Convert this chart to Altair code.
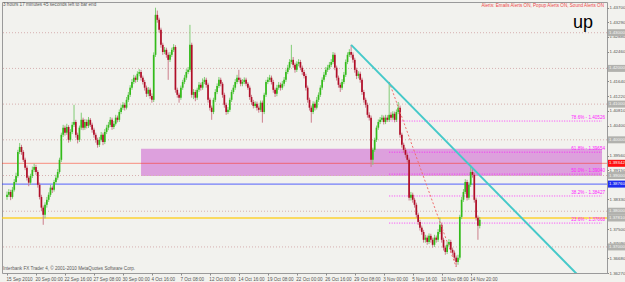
import json
import altair as alt
import pandas as pd

# ---------------- data ----------------
first_open = 1.3840
closes = [
    1.3846, 1.3854, 1.3840, 1.3860, 1.3882, 1.3899, 1.3966, 1.3980, 1.3966, 1.3944,
    1.3922, 1.3894, 1.3880, 1.3899, 1.3916, 1.3924, 1.3910, 1.3874, 1.3840, 1.3810,
    1.3790, 1.3818, 1.3832, 1.3846, 1.3866, 1.3860, 1.3882, 1.3894, 1.3910, 1.3944,
    1.4014, 1.4034, 1.4020, 1.4036, 1.4000, 1.4022, 1.4042, 1.4050, 1.4014, 1.4000,
    1.4034, 1.4056, 1.4034, 1.4050, 1.4039, 1.4056, 1.4042, 1.4028, 1.4014, 1.4000,
    1.3986, 1.4000, 1.4014, 1.3994, 1.4022, 1.4034, 1.4042, 1.4056, 1.4036, 1.4045,
    1.4062, 1.4056, 1.4078, 1.4090, 1.4098, 1.4090, 1.4112, 1.4126, 1.4146, 1.4162,
    1.4174, 1.4168, 1.4185, 1.4190, 1.4174, 1.4162, 1.4146, 1.4129, 1.4140, 1.4123,
    1.4112, 1.4238, 1.4350, 1.4336, 1.4308, 1.4266, 1.4246, 1.4252, 1.4238, 1.4224,
    1.4238, 1.4252, 1.4260, 1.4140, 1.4126, 1.4118, 1.4146, 1.4162, 1.4174, 1.4190,
    1.4196, 1.4266, 1.4126, 1.4134, 1.4118, 1.4140, 1.4154, 1.4146, 1.4162, 1.4168,
    1.4154, 1.4112, 1.4090, 1.4078, 1.4112, 1.4134, 1.4151, 1.4168, 1.4157, 1.4126,
    1.4098, 1.4078, 1.4084, 1.4112, 1.4134, 1.4146, 1.4162, 1.4174, 1.4168, 1.4157,
    1.4162, 1.4168, 1.4157, 1.4146, 1.4120, 1.4106, 1.4095, 1.4101, 1.4090, 1.4084,
    1.4104, 1.4078, 1.4126, 1.4162, 1.4168, 1.4174, 1.4162, 1.4140, 1.4129, 1.4146,
    1.4154, 1.4146, 1.4157, 1.4168, 1.4190, 1.4202, 1.4218, 1.4224, 1.4210, 1.4196,
    1.4213, 1.4218, 1.4202, 1.4190, 1.4179, 1.4146, 1.4112, 1.4090, 1.4078, 1.4101,
    1.4090, 1.4112, 1.4126, 1.4146, 1.4168, 1.4182, 1.4196, 1.4202, 1.4210, 1.4218,
    1.4238, 1.4202, 1.4174, 1.4154, 1.4146, 1.4162, 1.4182, 1.4218, 1.4238, 1.4246,
    1.4238, 1.4224, 1.4196, 1.4179, 1.4185, 1.4168, 1.4134, 1.4112, 1.4098, 1.4070,
    1.4062, 1.3944, 1.3972, 1.4000, 1.4034, 1.4050, 1.4056, 1.4062, 1.4050, 1.4062,
    1.4056, 1.4070, 1.4062, 1.4073, 1.4056, 1.4078, 1.4090, 1.4014, 1.3986, 1.3972,
    1.3958, 1.3944, 1.3838, 1.3846, 1.3832, 1.3818, 1.3790, 1.3770, 1.3754, 1.3742,
    1.3720, 1.3726, 1.3714, 1.3731, 1.3720, 1.3706, 1.3726, 1.3720, 1.3742, 1.3762,
    1.3720, 1.3698, 1.3686, 1.3706, 1.3714, 1.3692, 1.3684, 1.3670, 1.3658, 1.3670,
    1.3784, 1.3832, 1.3854, 1.3882, 1.3838, 1.3874, 1.3910, 1.3902, 1.3832, 1.3782,
    1.3759, 1.3776,
]
highs = [
    1.3855, 1.3862, 1.3860, 1.3868, 1.3890, 1.3908, 1.3972, 1.3991, 1.3986, 1.3971,
    1.3950, 1.3928, 1.3900, 1.3905, 1.3925, 1.3933, 1.3930, 1.3915, 1.3880, 1.3846,
    1.3816, 1.3825, 1.3840, 1.3853, 1.3874, 1.3872, 1.3888, 1.3902, 1.3918, 1.3950,
    1.4020, 1.4042, 1.4040, 1.4045, 1.4041, 1.4030, 1.4050, 1.4098, 1.4056, 1.4020,
    1.4040, 1.4076, 1.4062, 1.4058, 1.4057, 1.4064, 1.4061, 1.4048, 1.4034, 1.4020,
    1.4006, 1.4008, 1.4022, 1.4020, 1.4030, 1.4042, 1.4050, 1.4064, 1.4062, 1.4053,
    1.4070, 1.4068, 1.4085, 1.4098, 1.4106, 1.4104, 1.4120, 1.4134, 1.4153, 1.4170,
    1.4182, 1.4180, 1.4192, 1.4198, 1.4196, 1.4180, 1.4168, 1.4152, 1.4148, 1.4146,
    1.4130, 1.4245, 1.4370, 1.4362, 1.4342, 1.4314, 1.4272, 1.4260, 1.4258, 1.4245,
    1.4246, 1.4258, 1.4268, 1.4265, 1.4146, 1.4132, 1.4152, 1.4168, 1.4182, 1.4198,
    1.4204, 1.4322, 1.4272, 1.4142, 1.4140, 1.4146, 1.4162, 1.4160, 1.4172, 1.4176,
    1.4174, 1.4160, 1.4118, 1.4096, 1.4118, 1.4142, 1.4158, 1.4176, 1.4174, 1.4162,
    1.4132, 1.4104, 1.4092, 1.4118, 1.4140, 1.4154, 1.4170, 1.4182, 1.4196, 1.4174,
    1.4170, 1.4175, 1.4174, 1.4162, 1.4152, 1.4126, 1.4112, 1.4108, 1.4107, 1.4096,
    1.4110, 1.4110, 1.4132, 1.4168, 1.4176, 1.4182, 1.4180, 1.4168, 1.4146, 1.4154,
    1.4162, 1.4160, 1.4165, 1.4176, 1.4197, 1.4210, 1.4226, 1.4266, 1.4232, 1.4216,
    1.4220, 1.4226, 1.4224, 1.4208, 1.4196, 1.4185, 1.4152, 1.4118, 1.4096, 1.4108,
    1.4107, 1.4120, 1.4133, 1.4153, 1.4175, 1.4190, 1.4204, 1.4210, 1.4218, 1.4226,
    1.4246, 1.4244, 1.4208, 1.4180, 1.4160, 1.4170, 1.4190, 1.4225, 1.4245, 1.4254,
    1.4266, 1.4245, 1.4230, 1.4202, 1.4192, 1.4191, 1.4174, 1.4140, 1.4118, 1.4104,
    1.4077, 1.4068, 1.3978, 1.4006, 1.4040, 1.4057, 1.4064, 1.4070, 1.4068, 1.4070,
    1.4069, 1.4162, 1.4077, 1.4080, 1.4079, 1.4085, 1.4106, 1.4096, 1.4020, 1.3992,
    1.3978, 1.3964, 1.3950, 1.3854, 1.3852, 1.3838, 1.3824, 1.3796, 1.3776, 1.3760,
    1.3748, 1.3734, 1.3732, 1.3738, 1.3737, 1.3726, 1.3734, 1.3732, 1.3750, 1.3782,
    1.3768, 1.3726, 1.3704, 1.3714, 1.3722, 1.3720, 1.3698, 1.3690, 1.3676, 1.3678,
    1.3790, 1.3840, 1.3862, 1.3890, 1.3888, 1.3882, 1.3930, 1.3918, 1.3908, 1.3838,
    1.3788, 1.3784,
]
lows = [
    1.3832, 1.3840, 1.3831, 1.3835, 1.3855, 1.3876, 1.3894, 1.3960, 1.3958, 1.3938,
    1.3915, 1.3886, 1.3870, 1.3874, 1.3893, 1.3910, 1.3902, 1.3866, 1.3833, 1.3800,
    1.3762, 1.3780, 1.3810, 1.3826, 1.3840, 1.3851, 1.3855, 1.3876, 1.3888, 1.3905,
    1.3938, 1.4008, 1.4012, 1.4014, 1.3992, 1.3995, 1.4016, 1.4036, 1.4006, 1.3990,
    1.3994, 1.4028, 1.4027, 1.4028, 1.4032, 1.4033, 1.4036, 1.4020, 1.4006, 1.3992,
    1.3978, 1.3980, 1.3995, 1.3985, 1.3988, 1.4016, 1.4027, 1.4036, 1.4028, 1.4030,
    1.4040, 1.4049, 1.4050, 1.4072, 1.4084, 1.4082, 1.4085, 1.4106, 1.4120, 1.4140,
    1.4156, 1.4160, 1.4162, 1.4178, 1.4166, 1.4155, 1.4138, 1.4120, 1.4122, 1.4115,
    1.4104, 1.4106, 1.4232, 1.4328, 1.4300, 1.4258, 1.4238, 1.4240, 1.4230, 1.4168,
    1.4218, 1.4232, 1.4246, 1.4132, 1.4118, 1.4104, 1.4112, 1.4140, 1.4156, 1.4168,
    1.4184, 1.4190, 1.4118, 1.4114, 1.4108, 1.4112, 1.4134, 1.4138, 1.4140, 1.4156,
    1.4146, 1.4104, 1.4082, 1.4056, 1.4072, 1.4106, 1.4128, 1.4145, 1.4150, 1.4118,
    1.4090, 1.4070, 1.4072, 1.4078, 1.4106, 1.4128, 1.4140, 1.4156, 1.4162, 1.4150,
    1.4150, 1.4156, 1.4150, 1.4140, 1.4112, 1.4098, 1.4088, 1.4089, 1.4082, 1.4076,
    1.4078, 1.4048, 1.4072, 1.4120, 1.4156, 1.4162, 1.4155, 1.4132, 1.4120, 1.4122,
    1.4140, 1.4138, 1.4140, 1.4150, 1.4162, 1.4184, 1.4196, 1.4212, 1.4202, 1.4188,
    1.4190, 1.4206, 1.4195, 1.4182, 1.4172, 1.4138, 1.4104, 1.4082, 1.4048, 1.4072,
    1.4082, 1.4085, 1.4106, 1.4120, 1.4140, 1.4162, 1.4176, 1.4190, 1.4196, 1.4204,
    1.4212, 1.4195, 1.4166, 1.4146, 1.4134, 1.4140, 1.4156, 1.4176, 1.4212, 1.4232,
    1.4230, 1.4216, 1.4188, 1.4170, 1.4172, 1.4160, 1.4126, 1.4104, 1.4090, 1.4062,
    1.4054, 1.3924, 1.3930, 1.3966, 1.3994, 1.4028, 1.4044, 1.4050, 1.4043, 1.4044,
    1.4050, 1.4050, 1.4055, 1.4056, 1.4049, 1.4050, 1.4072, 1.4006, 1.3978, 1.3964,
    1.3950, 1.3936, 1.3830, 1.3830, 1.3824, 1.3810, 1.3782, 1.3762, 1.3746, 1.3734,
    1.3712, 1.3712, 1.3706, 1.3708, 1.3712, 1.3698, 1.3700, 1.3712, 1.3714, 1.3736,
    1.3712, 1.3690, 1.3678, 1.3680, 1.3700, 1.3684, 1.3676, 1.3662, 1.3644, 1.3650,
    1.3664, 1.3778, 1.3826, 1.3848, 1.3830, 1.3832, 1.3868, 1.3894, 1.3824, 1.3774,
    1.3720, 1.3752,
]

time_labels = [
    "15 Sep 2010", "20 Sep 00:00", "22 Sep 16:00", "27 Sep 08:00", "30 Sep 00:00",
    "4 Oct 16:00", "7 Oct 08:00", "12 Oct 00:00", "14 Oct 16:00", "19 Oct 08:00",
    "22 Oct 00:00", "26 Oct 16:00", "29 Oct 08:00", "3 Nov 00:00", "5 Nov 16:00",
    "10 Nov 08:00", "14 Nov 20:00",
]
bars_per_label = 16
# price labels of the right scale (those hidden under line labels are left out)
price_ticks = [
    1.36270, 1.36680, 1.37090, 1.37500, 1.38330, 1.39150, 1.39560,
    1.40400, 1.40810, 1.41220, 1.41640, 1.42050, 1.42460, 1.42880, 1.43290, 1.43700,
]
round_levels = [1.43, 1.42, 1.41, 1.40, 1.39, 1.38, 1.37]
red_level = 1.39342
blue_level = 1.38760
gold_level = 1.37810
zone = {"start": 74.0, "top": 1.3975, "bottom": 1.3899}
fib_names = ["78.6%", "61.8%", "50.0%", "38.2%", "23.6%"]
fib_levels = [1.40526, 1.39654, 1.39040, 1.38427, 1.37668]
fib_start_bar = 211
fib_anchor_bars = [211, 248]
fib_anchor_prices = [1.4162, 1.3644]
trend_bars = [190, 316]
trend_prices = [1.4266, 1.3617]

countdown_text = "3 hours 17 minutes 45 seconds left to bar end"
alerts_text = "Alerts:  Emails Alerts ON,  Popup Alerts ON,  Sound Alerts ON"
signal_text = "up"
copyright_text = "Interbank FX Trader 4, \u00a9 2001-2010 MetaQuotes Software Corp."

# ---------------- tables ----------------
n = len(closes)
opens = [first_open] + closes[:-1]
candles = pd.DataFrame({"i": list(range(n)), "open": opens, "close": closes,
                        "high": highs, "low": lows})

X_DOMAIN = [0, 328.5]
Y_DOMAIN = [1.3627, 1.4386]
xs = alt.Scale(domain=X_DOMAIN, nice=False, zero=False)
ys = alt.Scale(domain=Y_DOMAIN, nice=False, zero=False)

FONT = "Liberation Sans"
FS = 4.6
AFS = 4.4
BG = "#f2f2ee"
UP, DOWN = "#33bb1a", "#b00e28"
UP_WICK, DOWN_WICK = "#80cc74", "#cc7f8c"

label_expr = json.dumps(time_labels).replace('"', "'") + "[round(datum.value / %d)]" % bars_per_label
X_AX = alt.Axis(values=[bars_per_label * k for k in range(len(time_labels))],
                labelExpr=label_expr, labelAlign="left", labelBaseline="top",
                labelFontSize=FS, labelFont=FONT, labelColor="#555555", labelPadding=1,
                labelOffset=-1, tickSize=2, tickColor="#8a8a8a", domain=False, grid=False,
                title=None, labelFlush=False, labelOverlap=False)
Y_AX = alt.Axis(orient="right", values=price_ticks, format=".5f", labelFontSize=AFS,
                labelFont=FONT, labelColor="#555555", labelPadding=0.5, tickSize=1.5,
                tickColor="#8a8a8a", domain=False, grid=False, title=None,
                labelFlush=False, labelOverlap=False, labelBaseline="middle")


def X(field):
    return alt.X(field, scale=xs, axis=X_AX)


def Y(field):
    return alt.Y(field, scale=ys, axis=Y_AX)


zone_df = pd.DataFrame({"x0": [zone["start"]], "x1": [X_DOMAIN[1]],
                        "top": [zone["top"]], "bottom": [zone["bottom"]]})
zone_layer = alt.Chart(zone_df).mark_rect(color="#dda0dd", clip=True).encode(
    x=X("x0:Q"), x2="x1:Q", y=Y("top:Q"), y2="bottom:Q")

round_layer = alt.Chart(pd.DataFrame({"level": round_levels})).mark_rule(
    color="#d6b0b0", strokeDash=[1, 2], strokeWidth=1).encode(y=Y("level:Q"))


def hline(level, color, width, opacity):
    return alt.Chart(pd.DataFrame({"level": [level]})).mark_rule(
        color=color, strokeWidth=width, opacity=opacity).encode(y=Y("level:Q"))


red_layer = hline(red_level, "#ff2a10", 1.0, 0.5)
blue_layer = hline(blue_level, "#2a3cff", 1.0, 0.8)
gold_layer = hline(gold_level, "#ffcc10", 1.4, 0.85)

fib_df = pd.DataFrame({"level": fib_levels,
                       "label": [f"{nm} - {lv:.5f}" for nm, lv in zip(fib_names, fib_levels)],
                       "x0": [fib_start_bar] * len(fib_levels),
                       "x1": [X_DOMAIN[1]] * len(fib_levels)})
fib_lines = alt.Chart(fib_df).mark_rule(color="#ff00ff", strokeDash=[1, 1.5],
                                        strokeWidth=1, opacity=0.75).encode(
    x=X("x0:Q"), x2="x1:Q", y=Y("level:Q"))
fib_text = alt.Chart(fib_df).mark_text(align="right", baseline="middle", dy=-3,
                                       fontSize=FS, font=FONT, color="#ff20ff").encode(
    x=alt.value(603), y=Y("level:Q"), text="label:N")

is_up = "datum.close >= datum.open"
wicks = alt.Chart(candles).mark_rule(strokeWidth=1, clip=True).encode(
    x=X("i:Q"), y=Y("low:Q"), y2="high:Q",
    color=alt.condition(is_up, alt.value(UP_WICK), alt.value(DOWN_WICK)))
bodies = alt.Chart(candles).mark_bar(size=1.7, clip=True).encode(
    x=X("i:Q"), y=Y("open:Q"), y2="close:Q",
    color=alt.condition(is_up, alt.value(UP), alt.value(DOWN)))

fib_diag = alt.Chart(pd.DataFrame({"i": fib_anchor_bars, "p": fib_anchor_prices})).mark_line(
    color="#f07070", strokeDash=[2, 2], strokeWidth=1, clip=True).encode(
    x=X("i:Q"), y=Y("p:Q"))
trend = alt.Chart(pd.DataFrame({"i": trend_bars, "p": trend_prices})).mark_line(
    color="#45c9c9", strokeWidth=2, clip=True).encode(x=X("i:Q"), y=Y("p:Q"))

box_levels = round_levels + [red_level, blue_level, gold_level]
box_kinds = ["grid"] * len(round_levels) + ["red", "blue", "gold"]
box_df = pd.DataFrame({"level": box_levels, "kind": box_kinds,
                       "label": [f"{v:.5f}" for v in box_levels]})
boxes = alt.Chart(box_df).transform_calculate(
    top="datum.level + 0.00098", bot="datum.level - 0.00098").mark_rect().encode(
    x=alt.value(606), x2=alt.value(623),
    y=Y("top:Q"), y2="bot:Q",
    color=alt.Color("kind:N", scale=alt.Scale(domain=["grid", "red", "blue", "gold"],
                                              range=["#b2b2ae", "#ff1010", "#1f2cf0", "#b2b2ae"]),
                    legend=None))
box_text = alt.Chart(box_df).mark_text(align="left", baseline="middle", fontSize=AFS,
                                       font=FONT, color="#f6f6f6").encode(
    x=alt.value(607), y=Y("level:Q"), text="label:N")


def note(text, x, y, align, size, color, baseline="middle"):
    return alt.Chart(pd.DataFrame({"t": [text]})).mark_text(
        align=align, baseline=baseline, fontSize=size, font=FONT, color=color).encode(
        x=alt.value(x), y=alt.value(y), text="t:N")


notes = [
    note(countdown_text, 1, 3, "left", FS, "#5a5a5a"),
    note(alerts_text, 602, 4, "right", FS, "#f04848"),
    note(signal_text, 571, 26, "left", 18, "#000000", baseline="alphabetic"),
    note(copyright_text, 1, 267, "left", FS, "#5a5a5a"),
]

chart = alt.layer(
    zone_layer, round_layer, red_layer, blue_layer, gold_layer, fib_lines,
    wicks, bodies, fib_diag, trend, fib_text, boxes, box_text, *notes,
).properties(
    width=605, height=271,
    padding={"left": 2, "top": 2, "right": 18, "bottom": 9},
    autosize=alt.AutoSizeParams(type="none"),
    background=BG,
).configure_view(fill=BG, stroke="#9a9a9a", strokeWidth=1)

chart.save("out.html", embed_options={"renderer": "svg", "actions": False})
